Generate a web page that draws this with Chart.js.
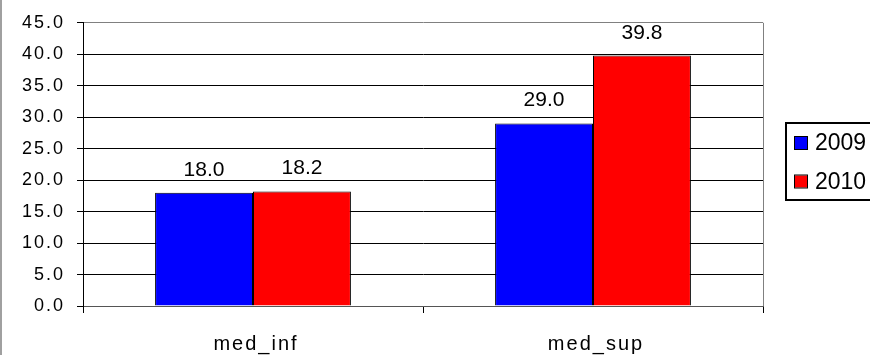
<!DOCTYPE html>
<html>
<head>
<meta charset="utf-8">
<script src="https://cdn.jsdelivr.net/npm/chart.js@4.4.0/dist/chart.umd.min.js"></script>
<style>
  html, body { margin: 0; padding: 0; background: #fff; }
  #wrap { width: 870px; height: 355px; }
</style>
</head>
<body>
<div id="wrap"><canvas id="myChart" width="870" height="355"></canvas></div>
<script>
const categories = ["med_inf", "med_sup"];
const seriesNames = ["2009", "2010"];
const values2009 = [18.0, 29.0];
const values2010 = [18.2, 39.8];
const seriesColors = ["#0000ff", "#ff0000"];
const yMin = 0;
const yMax = 45;
const yStep = 5;

const FONT = "'Liberation Sans', Arial, sans-serif";

// page background, outer left edge, letter spacing for axis ticks
const backgroundPlugin = {
  id: "background",
  beforeDraw(chart) {
    const ctx = chart.ctx;
    ctx.fillStyle = "#fff";
    ctx.fillRect(0, 0, chart.width, chart.height);
    ctx.fillStyle = "#a0a0a0";
    ctx.fillRect(0, 0, 2, chart.height);
    ctx.letterSpacing = "2px";
  },
};

// value labels above bars, category labels, right border, legend box
const extrasPlugin = {
  id: "extras",
  afterDraw(chart) {
    const ctx = chart.ctx;
    const area = chart.chartArea;
    ctx.save();
    ctx.letterSpacing = "0px";

    // right border of plot
    ctx.strokeStyle = "#808080";
    ctx.lineWidth = 1;
    ctx.beginPath();
    ctx.moveTo(Math.round(area.right) + 0.5, area.top);
    ctx.lineTo(Math.round(area.right) + 0.5, area.bottom);
    ctx.stroke();

    // data labels
    ctx.fillStyle = "#000";
    ctx.font = "21px " + FONT;
    ctx.textAlign = "center";
    ctx.textBaseline = "alphabetic";
    chart.data.datasets.forEach((ds, i) => {
      chart.getDatasetMeta(i).data.forEach((bar, j) => {
        ctx.fillText(ds.data[j].toFixed(1), bar.x, bar.y - 17);
      });
    });

    // category labels
    const xScale = chart.scales.x;
    ctx.font = "20px " + FONT;
    ctx.letterSpacing = "2px";
    categories.forEach((c, i) => {
      ctx.fillText(c, xScale.getPixelForValue(i) + 3, 350);
    });
    ctx.letterSpacing = "0px";

    // legend
    ctx.strokeStyle = "#000";
    ctx.lineWidth = 2;
    ctx.strokeRect(786, 123, 100, 77);
    ctx.font = "23px " + FONT;
    ctx.textAlign = "left";
    const rows = [150, 188.5];
    chart.data.datasets.forEach((ds, i) => {
      const y = rows[i];
      ctx.fillStyle = ds.backgroundColor;
      ctx.fillRect(795, y - 13, 12, 12);
      ctx.lineWidth = 1;
      ctx.strokeStyle = "#000";
      ctx.strokeRect(794.5, y - 13.5, 13, 13);
      ctx.fillStyle = "#000";
      ctx.fillText(ds.label, 815, y);
    });
    ctx.restore();
  },
};

new Chart("myChart", {
  type: "bar",
  data: {
    labels: categories,
    datasets: [
      {
        label: seriesNames[0],
        data: values2009,
        backgroundColor: seriesColors[0],
        borderColor: "#000",
        borderWidth: 1,
        categoryPercentage: 0.576,
        barPercentage: 1,
      },
      {
        label: seriesNames[1],
        data: values2010,
        backgroundColor: seriesColors[1],
        borderColor: "#000",
        borderWidth: 1,
        categoryPercentage: 0.576,
        barPercentage: 1,
      },
    ],
  },
  plugins: [backgroundPlugin, extrasPlugin],
  options: {
    responsive: false,
    animation: false,
    devicePixelRatio: 1,
    layout: {
      padding: { left: 0, right: 107, top: 22, bottom: 0 },
    },
    plugins: {
      legend: { display: false },
      tooltip: { enabled: false },
    },
    scales: {
      x: {
        afterFit: (scale) => {
          scale.height = 49;
        },
        grid: {
          drawOnChartArea: false,
          drawTicks: true,
          tickLength: 7,
          color: "#000",
        },
        border: { display: true, color: "#555" },
        ticks: { color: "rgba(0,0,0,0)", font: { size: 17, family: FONT } },
      },
      y: {
        min: yMin,
        max: yMax,
        afterFit: (scale) => {
          scale.width = 83;
        },
        grid: {
          color: (c) => (c.tick && c.tick.value === yMax ? "#808080" : c.tick && c.tick.value === 0 ? "#555" : "#000"),
          tickColor: "#000",
          tickLength: 6,
        },
        border: { display: true, color: "#000" },
        ticks: {
          stepSize: yStep,
          padding: 12,
          color: "#000",
          font: { size: 18, family: FONT },
          callback: (v) => Number(v).toFixed(1),
        },
      },
    },
  },
});
</script>
</body>
</html>
